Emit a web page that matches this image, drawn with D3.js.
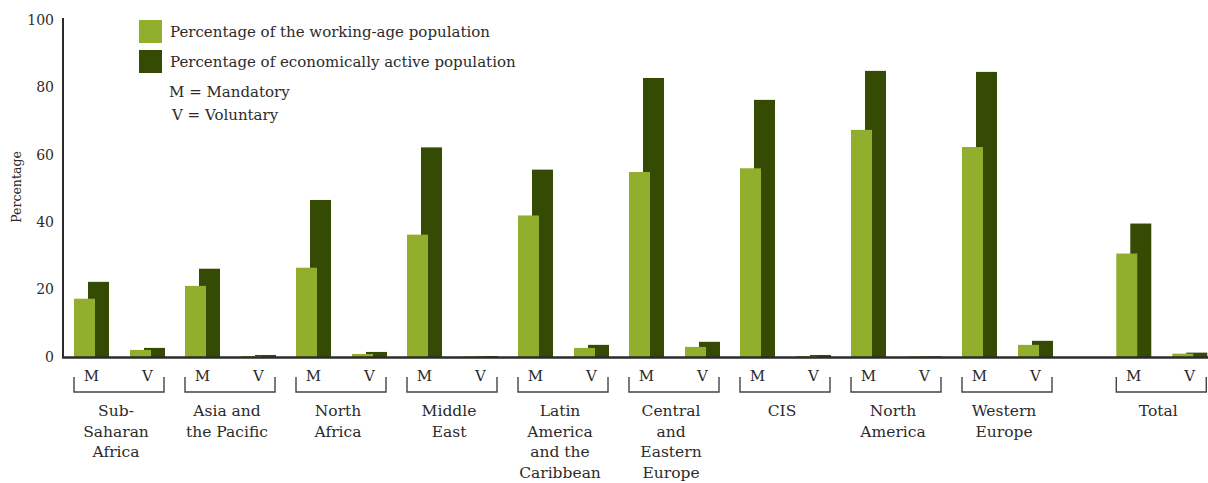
<!DOCTYPE html>
<html>
<head>
<meta charset="utf-8">
<script src="https://cdn.jsdelivr.net/npm/d3@7"></script>
<style>
  html, body { margin: 0; padding: 0; background: #fff; }
  svg { display: block; }
  text { font-family: "DejaVu Serif", serif; fill: #2b2b2b; }
</style>
</head>
<body>
<svg id="chart" width="1208" height="483"></svg>
<script>
// Regions and their wrapped label lines
const categories = ["Sub-Saharan Africa", "Asia and the Pacific", "North Africa", "Middle East",
  "Latin America and the Caribbean", "Central and Eastern Europe", "CIS", "North America",
  "Western Europe", "Total"];
const categoryLines = [["Sub-", "Saharan", "Africa"], ["Asia and", "the Pacific"], ["North", "Africa"],
  ["Middle", "East"], ["Latin", "America", "and the", "Caribbean"], ["Central", "and", "Eastern", "Europe"],
  ["CIS"], ["North", "America"], ["Western", "Europe"], ["Total"]];
const schemes = ["M", "V"];

// Coverage (%) for mandatory (M) and voluntary (V) schemes
const workingAgeM = [17.3, 21.1, 26.5, 36.3, 42.0, 54.9, 56.0, 67.4, 62.3, 30.7];
const activeM     = [22.3, 26.2, 46.6, 62.2, 55.6, 82.8, 76.3, 84.9, 84.6, 39.6];
const workingAgeV = [2.1, 0.3, 0.9, 0.2, 2.7, 3.0, 0.3, 0.2, 3.6, 1.0];
const activeV     = [2.7, 0.6, 1.5, 0.3, 3.6, 4.5, 0.6, 0.2, 4.8, 1.3];

const seriesNames = ["Percentage of the working-age population", "Percentage of economically active population"];
const schemeKey = ["M = Mandatory", "V = Voluntary"];
const yTicks = [0, 20, 40, 60, 80, 100];

const colors = ["#91ae2d", "#354a03"];

const svg = d3.select("#chart");

// Group slots; the Total group sits a little apart from the regions
const totalGap = 0.39;
const slot = categories.map((d, i) => i === categories.length - 1 ? i + totalGap : i);
const x = d3.scaleLinear().domain([0, 9]).range([74, 1073]);
const xScheme = d3.scalePoint().domain(schemes).range([0, 56]);
const xSeries = d3.scalePoint().domain([0, 1]).range([0, 14]);
const barW = 21;

const y = d3.scaleLinear().domain([0, 100]).range([357, 20]);

// Bars: the dark (economically active) bar sits behind the light one
const bars = [];
categories.forEach((c, i) => {
  bars.push({ i, scheme: "M", s: 1, v: activeM[i] });
  bars.push({ i, scheme: "M", s: 0, v: workingAgeM[i] });
  bars.push({ i, scheme: "V", s: 1, v: activeV[i] });
  bars.push({ i, scheme: "V", s: 0, v: workingAgeV[i] });
});

svg.append("g").selectAll("rect").data(bars).join("rect")
  .attr("x", d => x(slot[d.i]) + xScheme(d.scheme) + xSeries(d.s))
  .attr("y", d => y(d.v))
  .attr("width", barW)
  .attr("height", d => y(0) - y(d.v))
  .attr("fill", d => colors[d.s]);

// Y axis
const yAxis = svg.append("g").attr("transform", "translate(63,0)")
  .call(d3.axisLeft(y).tickValues(yTicks).tickSize(0).tickPadding(9));
yAxis.select(".domain").attr("stroke", "#2b2b2b").attr("stroke-width", 2)
  .attr("d", `M0,${y(100) - 2}V${y(0)}`);
yAxis.selectAll("text")
  .style("font-family", '"DejaVu Serif", serif')
  .style("font-size", "14px")
  .attr("dy", "0.3em")
  .attr("fill", "#2b2b2b");

// Baseline
svg.append("line").attr("x1", 62).attr("x2", 1208).attr("y1", y(0) + 0.5).attr("y2", y(0) + 0.5)
  .attr("stroke", "#2b2b2b").attr("stroke-width", 2.5);

svg.append("text").attr("transform", `translate(21,187) rotate(-90)`)
  .attr("text-anchor", "middle").style("font-size", "12.5px").text("Percentage");

// Scheme brackets and category labels
const groups = svg.append("g").selectAll("g").data(categories).join("g")
  .attr("transform", (d, i) => `translate(${x(slot[i])},0)`);

groups.append("path")
  .attr("d", "M0,377V392H90V377")
  .attr("fill", "none").attr("stroke", "#444").attr("stroke-width", 1.4);

schemes.forEach(s => {
  groups.append("text")
    .attr("x", xScheme(s) + 17.5)
    .attr("y", 381)
    .attr("text-anchor", "middle")
    .style("font-size", "15px")
    .text(s);
});

groups.append("text")
  .attr("text-anchor", "middle")
  .style("font-size", "15.5px")
  .selectAll("tspan").data((d, i) => categoryLines[i]).join("tspan")
  .attr("x", 42)
  .attr("y", (d, j) => 416 + j * 20.5)
  .text(d => d);

// Legend
const legend = svg.append("g");
seriesNames.forEach((name, k) => {
  legend.append("rect").attr("x", 139).attr("y", 20 + k * 30).attr("width", 23).attr("height", 23)
    .attr("fill", colors[k]);
  legend.append("text").attr("x", 170).attr("y", 37 + k * 30).style("font-size", "15px").text(name);
});
legend.selectAll("text.key").data(schemeKey).join("text").attr("class", "key")
  .attr("x", (d, k) => 169 + k * 3).attr("y", (d, k) => 97 + k * 23)
  .style("font-size", "15px").text(d => d);
</script>
</body>
</html>
